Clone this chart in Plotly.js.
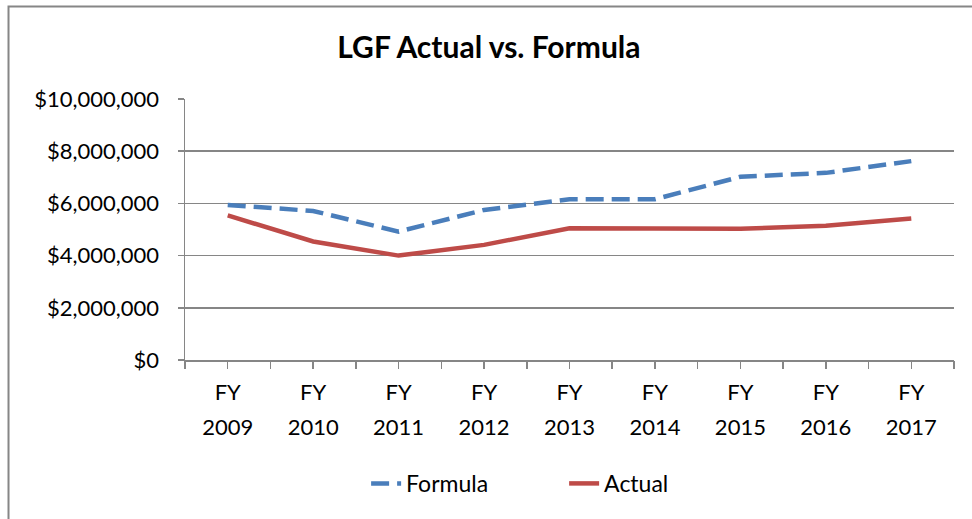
<!DOCTYPE html>
<html>
<head>
<meta charset="utf-8">
<script src="https://cdn.plot.ly/plotly-3.0.1.min.js"></script>
<style>html,body{margin:0;padding:0;background:#fff;}#chart{width:972px;height:519px;}</style>
</head>
<body>
<div id="chart"></div>
<script>
const categories = ["FY 2009","FY 2010","FY 2011","FY 2012","FY 2013","FY 2014","FY 2015","FY 2016","FY 2017"];
const fyLabels = ["FY","FY","FY","FY","FY","FY","FY","FY","FY"];
const yearLabels = ["2009","2010","2011","2012","2013","2014","2015","2016","2017"];
const formula = [5940000, 5710000, 4920000, 5750000, 6160000, 6160000, 7020000, 7170000, 7620000];
const actual  = [5540000, 4540000, 4000000, 4410000, 5050000, 5050000, 5030000, 5140000, 5420000];
const yTicks = [0, 2000000, 4000000, 6000000, 8000000, 10000000];
const yTickLabels = ["$0", "$2,000,000", "$4,000,000", "$6,000,000", "$8,000,000", "$10,000,000"];

const font = "Lato, 'Open Sans', sans-serif";
const catIdx = categories.map((c, i) => i);
const traces = [
  {x: catIdx, y: formula, name: "Formula", type: "scatter", mode: "lines",
   line: {color: "#4A7EBB", width: 4.5, dash: "18px,8px"}},
  {x: catIdx, y: actual, name: "Actual", type: "scatter", mode: "lines",
   line: {color: "#BE4B48", width: 4.5}},
  {x: catIdx, y: actual, xaxis: "x2", type: "scatter", mode: "lines", opacity: 0,
   line: {width: 0}, showlegend: false, hoverinfo: "skip"}
];
const boundaries = categories.map((c, i) => i - 0.5).concat([categories.length - 0.5]);
const layout = {
  width: 972, height: 519,
  margin: {l: 185, r: 18, t: 99, b: 159},
  paper_bgcolor: "#fff", plot_bgcolor: "#fff",
  font: {family: font, color: "#000", size: 22},
  title: {text: "<b>LGF Actual vs. Formula</b>", x: 0.503, xanchor: "center", y: 0.908, yanchor: "middle",
          font: {family: font, size: 30, color: "#000"}},
  xaxis: {range: [-0.5, categories.length - 0.5], tickvals: catIdx, ticktext: fyLabels,
          showgrid: false, showline: true, linecolor: "#868686", linewidth: 1.5, zeroline: false,
          ticks: "", ticklabelstandoff: 12,
          tickfont: {family: font, size: 22}, fixedrange: true},
  xaxis2: {overlaying: "x", anchor: "y", side: "bottom", range: [-0.5, categories.length - 0.5],
           tickvals: boundaries.concat(catIdx),
           ticktext: boundaries.map(() => "").concat(yearLabels),
           showgrid: false, showline: false, zeroline: false,
           ticks: "outside", ticklen: 8, tickcolor: "#868686", tickwidth: 1.5,
           ticklabelstandoff: 40, tickfont: {family: font, size: 22}, fixedrange: true},
  yaxis: {range: [0, 10000000], tickvals: yTicks, ticktext: yTickLabels,
          showgrid: true, gridcolor: "#868686", gridwidth: 1.5, zeroline: false,
          showline: true, linecolor: "#868686", linewidth: 1.5,
          ticks: "outside", ticklen: 6, tickcolor: "#868686", tickwidth: 1.5,
          ticklabelstandoff: 14,
          tickfont: {family: font, size: 22}, fixedrange: true},
  showlegend: true,
  legend: {orientation: "h", x: 0.493, xanchor: "center", y: -0.473, yanchor: "middle",
           font: {family: font, size: 23}, entrywidth: 153, traceorder: "normal"},
  shapes: [{type: "rect", xref: "paper", yref: "paper", x0: -0.2295, x1: 1.6, y0: -1.5, y1: 1.354,
            line: {color: "#868686", width: 2}, fillcolor: "rgba(0,0,0,0)", layer: "below"}]
};
Plotly.newPlot("chart", traces, layout, {displayModeBar: false, staticPlot: true});
</script>
</body>
</html>
